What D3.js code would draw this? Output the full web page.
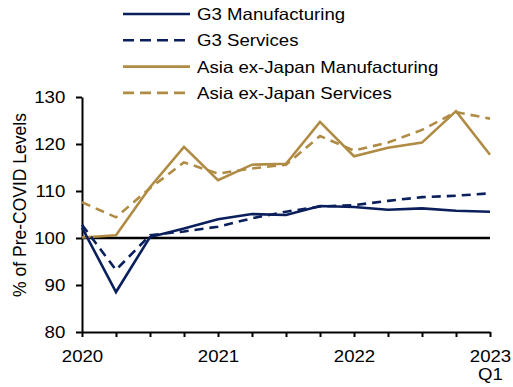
<!DOCTYPE html>
<html>
<head>
<meta charset="utf-8">
<script src="https://cdn.jsdelivr.net/npm/d3@7"></script>
<style>
  html, body { margin: 0; padding: 0; background: #fff; }
  svg { display: block; }
  text { font-family: "Liberation Sans", Arial, sans-serif; fill: #000; }
</style>
</head>
<body>
<svg id="chart" width="513" height="387"></svg>
<script>
// ---- data (quarterly, 2020 Q1 .. 2023 Q1) ----
const quarters = ["2020Q1","2020Q2","2020Q3","2020Q4","2021Q1","2021Q2","2021Q3","2021Q4",
                  "2022Q1","2022Q2","2022Q3","2022Q4","2023Q1"];
const g3Manufacturing   = [102.2, 88.5, 100.2, 102.0, 104.0, 105.1, 104.9, 106.8, 106.6, 106.0, 106.3, 105.8, 105.6];
const g3Services        = [102.8, 93.2, 100.6, 101.4, 102.4, 104.2, 105.6, 106.7, 107.0, 107.9, 108.7, 109.0, 109.5];
const asiaManufacturing = [100.1, 100.6, 110.8, 119.4, 112.3, 115.6, 115.8, 124.7, 117.4, 119.2, 120.3, 127.0, 117.7];
const asiaServices      = [107.6, 104.4, 110.6, 116.1, 113.7, 114.8, 115.6, 121.7, 118.6, 120.3, 123.0, 126.8, 125.4];
const seriesNames = ["G3 Manufacturing", "G3 Services", "Asia ex-Japan Manufacturing", "Asia ex-Japan Services"];
const yTicks = [80, 90, 100, 110, 120, 130];
const xTickLabels = {0: ["2020"], 4: ["2021"], 8: ["2022"], 12: ["2023", "Q1"]};
const yTitle = "% of Pre-COVID Levels";

// ---- styles ----
const NAVY = "#0b1f5c", GOLD = "#b08b44";
const series = [
  {name: seriesNames[2], values: asiaManufacturing, color: GOLD, dash: null},
  {name: seriesNames[3], values: asiaServices, color: GOLD, dash: "9,6"},
  {name: seriesNames[0], values: g3Manufacturing, color: NAVY, dash: null},
  {name: seriesNames[1], values: g3Services, color: NAVY, dash: "9,6"}
];
const legendOrder = [2, 3, 0, 1];
const SX = 1.13; // horizontal text stretch seen in reference

const svg = d3.select("#chart");
const x = d3.scaleLinear().domain([0, quarters.length - 1]).range([82, 490]);
const y = d3.scaleLinear().domain([80, 130]).range([332, 97]);

// zero (100) line
svg.append("line")
  .attr("x1", x(0)).attr("x2", x(quarters.length - 1))
  .attr("y1", y(100)).attr("y2", y(100))
  .attr("stroke", "#000").attr("stroke-width", 2.4);

// y axis
const yAxis = svg.append("g").attr("transform", `translate(${x(0)},0)`)
  .call(d3.axisLeft(y).tickValues(yTicks).tickSize(6).tickSizeOuter(0).tickFormat(d3.format("d")));
yAxis.select(".domain").attr("stroke", "#000").attr("stroke-width", 2);
yAxis.selectAll(".tick line").attr("stroke", "#000").attr("stroke-width", 2);
yAxis.selectAll(".tick text")
  .attr("x", -14.8).attr("dy", "0.36em")
  .attr("transform", `scale(${SX},1)`)
  .style("font-size", "16.5px").style("font-family", "'Liberation Sans', Arial, sans-serif").attr("fill", "#000");

// x axis
const xAxis = svg.append("g").attr("transform", `translate(0,${y(80)})`)
  .call(d3.axisBottom(x).tickValues(d3.range(quarters.length)).tickSize(5).tickSizeOuter(0).tickFormat(""));
xAxis.select(".domain").attr("stroke", "#000").attr("stroke-width", 2);
xAxis.selectAll(".tick line").attr("stroke", "#000").attr("stroke-width", 2);
xAxis.selectAll(".tick").each(function(d) {
  const lines = xTickLabels[d];
  if (!lines) return;
  const t = d3.select(this).append("text")
    .attr("text-anchor", "middle")
    .attr("transform", `scale(${SX},1)`)
    .style("font-size", "16.5px");
  lines.forEach((s, i) => {
    t.append("tspan").attr("x", 0).attr("y", 30 + i * 18.5).text(s);
  });
});

// y title
svg.append("text")
  .attr("transform", `translate(26,205) rotate(-90)`)
  .attr("text-anchor", "middle")
  .style("font-size", "17.5px")
  .text(yTitle);

// lines
const line = d3.line().x((d, i) => x(i)).y(d => y(d));
series.forEach(s => {
  svg.append("path")
    .datum(s.values)
    .attr("d", line)
    .attr("fill", "none")
    .attr("stroke", s.color)
    .attr("stroke-width", 2.6)
    .attr("stroke-linejoin", "miter")
    .attr("stroke-dasharray", s.dash);
});

// legend
const legend = svg.append("g");
legendOrder.forEach((si, i) => {
  const s = series[si];
  const cy = 14 + i * 26.3;
  legend.append("line")
    .attr("x1", 123).attr("x2", 190).attr("y1", cy).attr("y2", cy)
    .attr("stroke", s.color).attr("stroke-width", 2.6)
    .attr("stroke-dasharray", s.dash ? "11,6" : null);
  legend.append("text")
    .attr("transform", `translate(197,${cy + 6}) scale(${SX},1)`)
    .style("font-size", "16.5px")
    .text(s.name);
});
</script>
</body>
</html>
